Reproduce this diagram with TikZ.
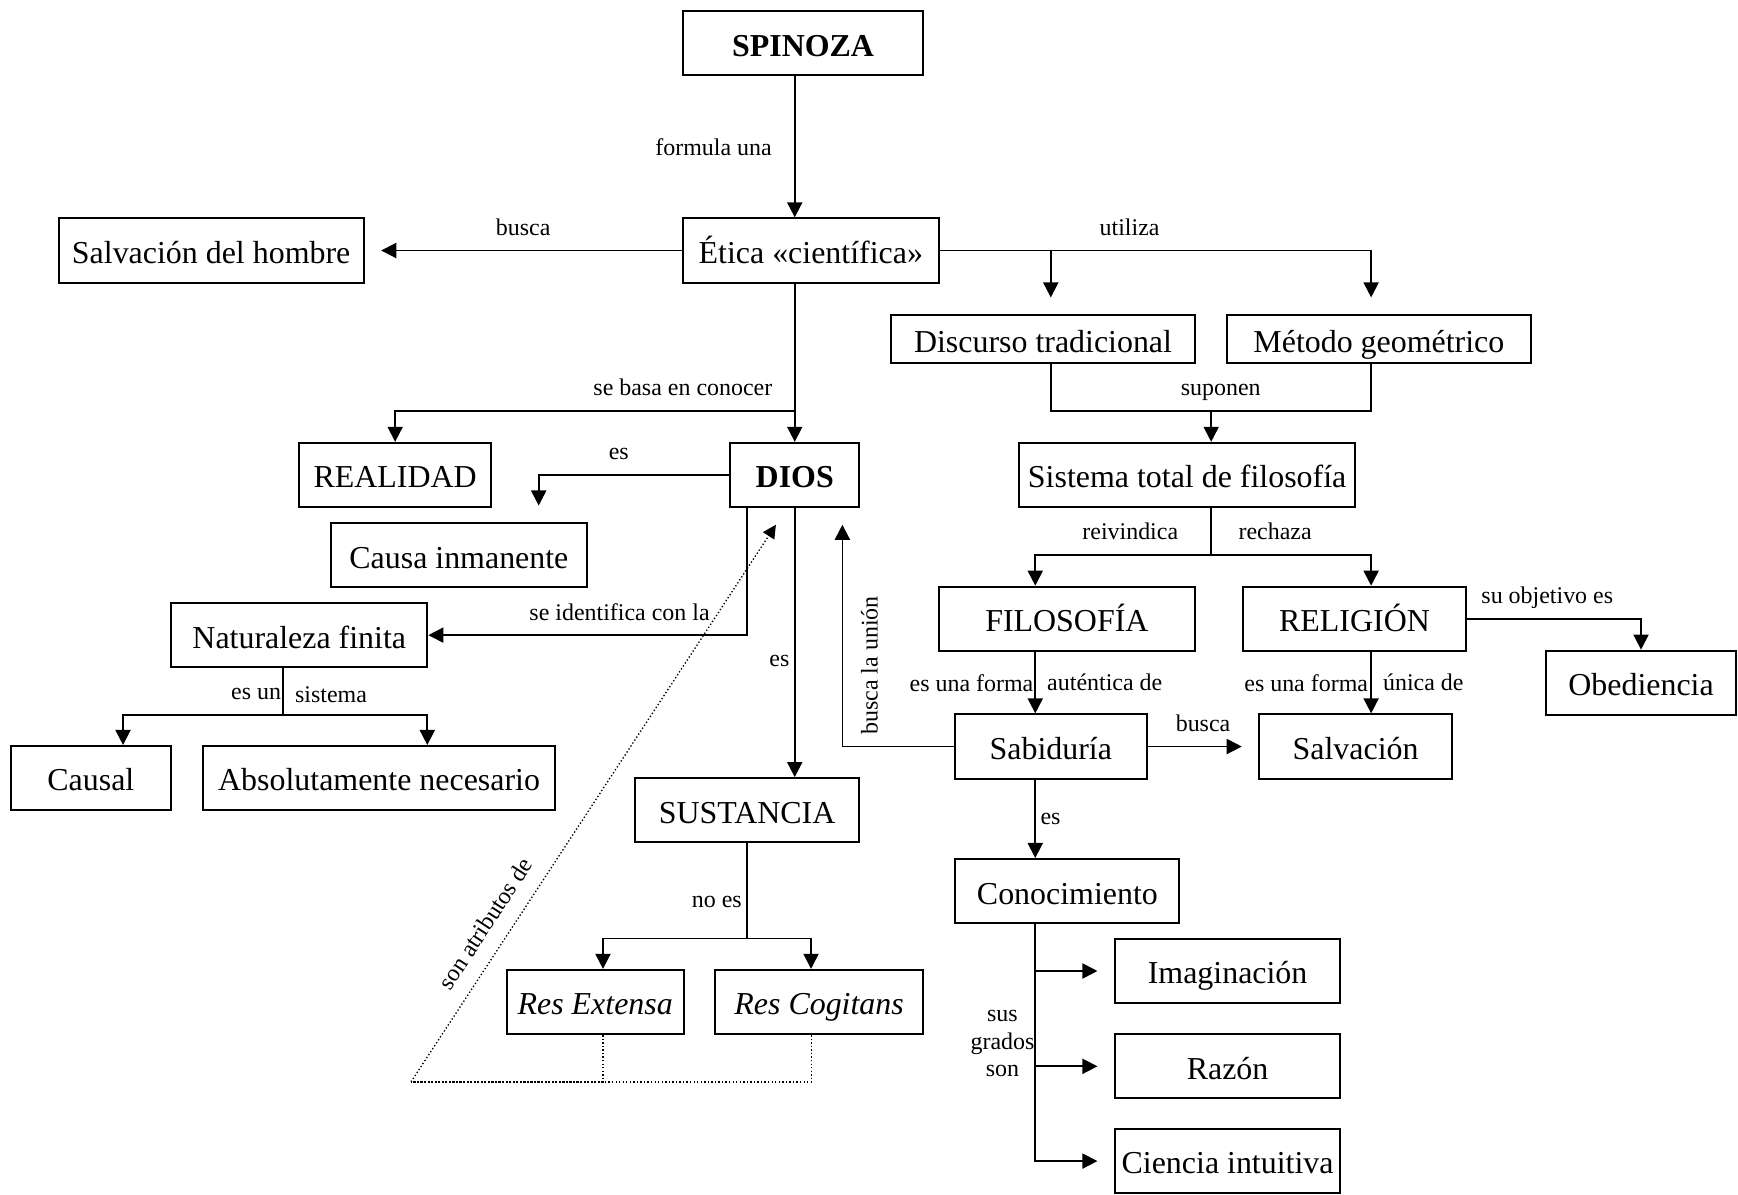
\documentclass[tikz,border=0pt]{standalone}
\usepackage{fontspec}
\setmainfont{Liberation Serif}
\usetikzlibrary{arrows.meta}

\begin{document}
\begin{tikzpicture}[x=0.5pt, y=-0.5pt,
    main/.style = {draw, line width=0.9pt, minimum height=29pt, inner sep=0pt, text height=11.6pt, text depth=0pt, font=\fontsize{14.4}{17}\selectfont},
    bold/.style = {font=\fontsize{14.4}{17}\selectfont\bfseries},
    ital/.style = {font=\fontsize{14.4}{17}\selectfont\itshape},
    lbl/.style = {font=\fontsize{10.8}{12.5}\selectfont, inner sep=2pt},
    tag/.style = {lbl, above=2pt, text height=7.4pt, text depth=2.4pt},
    line/.style = {line width=0.8pt},
    arr/.style = {line width=0.8pt, -{Triangle[length=6.8pt, width=6.8pt]}},
    gap/.style = {shorten >=7.5pt},
    dots/.style = {densely dotted, line width=0.6pt}]

    \useasboundingbox (0,0) rectangle (1568,1078);

    \node[main, bold, minimum width=108.5pt] (spinoza) at (724.5,39) {SPINOZA};
    \node[main, minimum width=115.5pt] (etica) at (731.5,226) {Ética «científica»};
    \node[main, minimum width=137.5pt] (salvhombre) at (190.5,226) {Salvación del hombre};
    \node[main, minimum width=137pt, minimum height=21.75pt] (discurso) at (941,306) {Discurso tradicional};
    \node[main, minimum width=137pt, minimum height=21.75pt] (metodo) at (1244,306) {Método geométrico};
    \node[main, minimum width=86.5pt] (realidad) at (356.5,428.5) {REALIDAD};
    \node[main, bold, minimum width=58pt] (dios) at (717,428.5) {DIOS};
    \node[main, minimum width=151.5pt] (sistema) at (1071,428.5) {Sistema total de filosofía};
    \node[main, minimum width=115.5pt] (causa) at (414,501) {Causa inmanente};
    \node[main, minimum width=115.5pt] (naturaleza) at (270,573) {Naturaleza finita};
    \node[main, minimum width=115.5pt] (filosofia) at (962.5,558.3) {FILOSOFÍA};
    \node[main, minimum width=101pt] (religion) at (1222,558.3) {RELIGIÓN};
    \node[main, minimum width=85.5pt] (obediencia) at (1480.5,616) {Obediencia};
    \node[main, minimum width=72.5pt] (causal) at (82,702) {Causal};
    \node[main, minimum width=159pt] (absolut) at (342,702) {Absolutamente necesario};
    \node[main, minimum width=86.5pt] (sabiduria) at (948,673.5) {Sabiduría};
    \node[main, minimum width=86.8pt] (salvacion) at (1223,673.5) {Salvación};
    \node[main, minimum width=101pt] (sustancia) at (674,731) {SUSTANCIA};
    \node[main, minimum width=101pt] (conocimiento) at (963,804) {Conocimiento};
    \node[main, ital, minimum width=80pt] (resext) at (537,904) {Res Extensa};
    \node[main, ital, minimum width=94pt] (rescog) at (739,904) {Res Cogitans};
    \node[main, minimum width=101.5pt] (imaginacion) at (1107.5,876) {Imaginación};
    \node[main, minimum width=101.5pt] (razon) at (1107.5,962) {Razón};
    \node[main, minimum width=101.5pt] (ciencia) at (1107.5,1047.5) {Ciencia intuitiva};

    \coordinate (basa) at (717,370.6);
    \coordinate (sis) at (255.4,644.8);
    \coordinate (noes) at (674,846.7);
    \coordinate (sup) at (1092.7,370.6);
    \coordinate (rei) at (1092.7,500.4);
    \coordinate (attr) at (370.8,976);

    \draw[arr] (spinoza.south -| dios) -- node[lbl, left=8pt] {formula una} (etica.north -| dios);
    \draw[arr, gap] (etica) -- node[tag] {busca} (salvhombre);
    \draw[arr, gap] (etica.east) -| ([xshift=3.5pt]discurso.north);
    \draw[arr, gap] (etica.east) -| node[tag, pos=0.22] {utiliza} ([xshift=-3.5pt]metodo.north);
    \draw[arr] (etica.south -| dios) -- (dios);
    \draw[arr] (basa) -| node[tag, pos=0.14] {se basa en conocer} (realidad);

    \draw[arr, gap] (dios.west) -| node[tag, pos=0.29] {es} ([xshift=36pt]causa.north);
    \draw[arr] ([xshift=-21.5pt]dios.south) |- node[tag, pos=0.7] {se identifica con la} (naturaleza);
    \draw[arr] (dios) -- node[lbl, left, pos=0.57] {es} (dios |- sustancia.north);
    \draw[arr, gap] (sabiduria.west) -| node[lbl, rotate=90, anchor=north, inner sep=8pt, pos=0.67] {busca la unión} ([xshift=21.5pt]dios.south);

    \draw[line] ([xshift=-7.3pt]naturaleza.south) -- node[lbl, left, inner sep=0.5pt, pos=0.56] {es un} node[lbl, right, inner sep=5pt, pos=0.56] {sistema} (sis);
    \draw[arr] (sis) -| ([xshift=14.5pt]causal.north);
    \draw[arr] (sis) -| ([xshift=21.75pt]absolut.north);

    \draw[line] (sustancia) -- node[lbl, left, pos=0.62] {no es} (noes);
    \draw[arr] (noes) -| ([xshift=3.5pt]resext.north);
    \draw[arr] (noes) -| ([xshift=-3.65pt]rescog.north);

    \draw[dots] ([xshift=3.5pt]resext.south) |- (attr);
    \draw[dots] ([xshift=-3.5pt]rescog.south) |- (attr);
    \draw[dots, -{Triangle[length=6pt, width=6pt]}] (attr) -- node[lbl, sloped, above=5pt, pos=0.26] {son atributos de} ([xshift=-8.5pt, yshift=-7.5pt]dios.south);

    \draw[line] ([xshift=3.5pt]discurso.south) |- (sup);
    \draw[line] ([xshift=-3.5pt]metodo.south) |- node[tag, pos=0.97] {suponen} (sup);
    \draw[arr] (sup) -- (sup |- sistema.north);

    \draw[line] (sistema.south -| rei) -- (rei);
    \draw[arr] (rei) -| node[tag, pos=0.23] {reivindica} ([xshift=-14.25pt]filosofia.north);
    \draw[arr] (rei) -| node[tag, pos=0.2] {rechaza} ([xshift=7.5pt]religion.north);
    \draw[arr] (religion) -| node[tag, pos=0.23] {su objetivo es} (obediencia);

    \draw[arr] ([xshift=-14.25pt]filosofia.south) -- node[lbl, left, inner sep=0.5pt] {es una forma} node[lbl, right, inner sep=5pt] {auténtica de} ([xshift=-7pt]sabiduria.north);
    \draw[arr] ([xshift=7.5pt]religion.south) -- node[lbl, left, inner sep=1pt] {es una forma} node[lbl, right, inner sep=5pt] {única de} ([xshift=7pt]salvacion.north);
    \draw[arr, gap] (sabiduria) -- node[tag] {busca} (salvacion);
    \draw[arr] ([xshift=-7pt]sabiduria.south) -- node[lbl, right] {es} ([xshift=-14.5pt]conocimiento.north);

    \draw[arr, gap] ([xshift=-14.5pt]conocimiento.south) |- (imaginacion);
    \draw[arr, gap] ([xshift=-14.5pt]conocimiento.south) |- node[lbl, left, align=center, inner sep=0pt, pos=0.42] {sus\\grados\\son} (razon);
    \draw[arr, gap] ([xshift=-14.5pt]conocimiento.south) |- (ciencia);

\end{tikzpicture}
\end{document}
